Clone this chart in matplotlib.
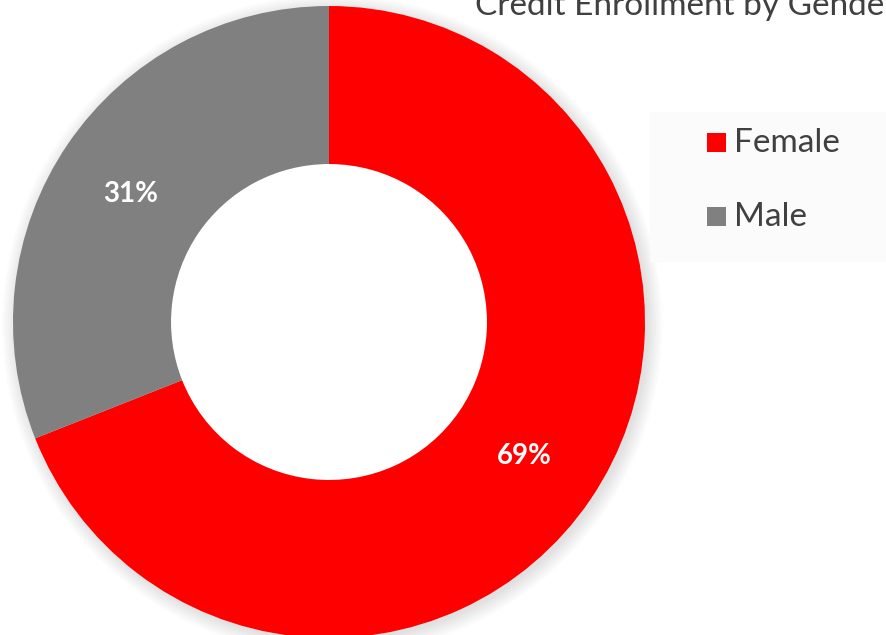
import matplotlib.pyplot as plt
from matplotlib.patches import Circle, Rectangle

# data
labels = ['Female', 'Male']
shares = [69, 31]
colors = ['#ff0000', '#808080']
title = 'Credit Enrollment by Gender'

W, H = 886, 635
fig = plt.figure(figsize=(W / 100, H / 100), dpi=100)
fig.patch.set_facecolor('white')

# donut centre (329, 322) px, radius ~316 px
cx, cy, r = 329, 322, 316
ax = fig.add_axes([(cx - r) / W, (H - cy - r) / H, 2 * r / W, 2 * r / H])
ax.axis('off')

# soft shadow around the ring
for i in range(10):
    ax.add_patch(Circle((0.01, -0.01), 1.0 + 0.005 * i, color='black',
                        alpha=0.012, lw=0, zorder=0, clip_on=False))
ax.add_patch(Circle((0, 0), 0.5, color='white', lw=0, zorder=1))

wedges, _ = ax.pie(shares, colors=colors, startangle=90, counterclock=False,
                   radius=1.0, wedgeprops=dict(width=0.5, edgecolor='none'))
for w in wedges:
    w.set_zorder(2)
ax.set_xlim(-1, 1)
ax.set_ylim(-1, 1)
ax.set_aspect('equal')

# percentage labels
ax.text(0.617, -0.424, '%d%%' % shares[0], color='white', fontsize=20,
        fontweight='bold', ha='center', va='center', family='Lato', zorder=3)
ax.text(-0.627, 0.405, '%d%%' % shares[1], color='white', fontsize=20,
        fontweight='bold', ha='center', va='center', family='Lato', zorder=3)

# legend area with faint background
fig.patches.append(Rectangle((650 / W, 1 - 262 / H), 240 / W, 150 / H,
                             transform=fig.transFigure, facecolor='#fbfbfb',
                             edgecolor='none', zorder=0))
for i, (lab, col) in enumerate(zip(labels, colors)):
    ytop = 133 + i * 74
    fig.patches.append(Rectangle((707 / W, 1 - (ytop + 19) / H), 19 / W, 19 / H,
                                 transform=fig.transFigure, facecolor=col,
                                 edgecolor='none', zorder=1))
    fig.text(734 / W, 1 - (ytop + 10) / H, lab, color='#404040', fontsize=24,
             family='Lato', ha='left', va='center')

fig.text(475 / W, 1 - 15 / H, title, color='#404040', fontsize=24,
         family='Lato', ha='left', va='baseline')

fig.savefig('out.png', dpi=100)
